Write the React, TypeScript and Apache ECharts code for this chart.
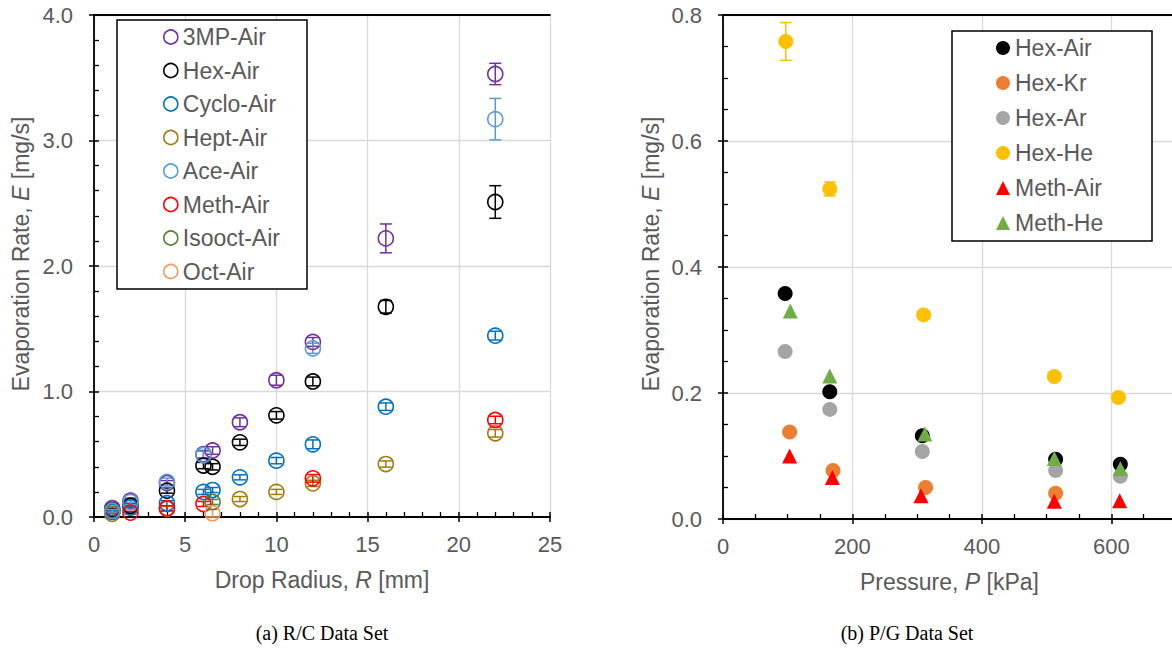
import React, { useEffect, useRef } from 'react';
import * as echarts from 'echarts';

// ---------- (a) R/C data set: [R (mm), E (mg/s), error] ----------
const rcNames = ['3MP-Air', 'Hex-Air', 'Cyclo-Air', 'Hept-Air', 'Ace-Air', 'Meth-Air', 'Isooct-Air', 'Oct-Air'];
const rcColors = ['#7030A0', '#000000', '#0070C0', '#A07C10', '#5B9BD5', '#FF0000', '#548235', '#F19A5C'];

const mp3Air = [[1, 0.07, 0.01], [2, 0.13, 0.02], [4, 0.27, 0.02], [6, 0.5, 0.03], [6.5, 0.53, 0.03], [8, 0.755, 0.035], [10, 1.09, 0.04], [12, 1.395, 0.035], [16, 2.22, 0.115], [22, 3.53, 0.085]];
const hexAir = [[1, 0.055, 0.01], [2, 0.09, 0.01], [4, 0.21, 0.02], [6, 0.41, 0.025], [6.5, 0.4, 0.025], [8, 0.595, 0.025], [10, 0.81, 0.03], [12, 1.08, 0.035], [16, 1.675, 0.05], [22, 2.51, 0.13]];
const cycloAir = [[1, 0.04, 0.01], [2, 0.075, 0.01], [4, 0.11, 0.02], [6, 0.2, 0.02], [6.5, 0.215, 0.02], [8, 0.316, 0.02], [10, 0.449, 0.025], [12, 0.579, 0.035], [16, 0.879, 0.03], [22, 1.445, 0.035]];
const heptAir = [[1, 0.025, 0.01], [4, 0.065, 0.02], [8, 0.143, 0.02], [10, 0.2, 0.02], [12, 0.268, 0.025], [16, 0.422, 0.025], [22, 0.667, 0.03]];
const aceAir = [[1, 0.05, 0.01], [2, 0.12, 0.02], [4, 0.28, 0.03], [6, 0.494, 0.03], [12, 1.344, 0.04], [22, 3.17, 0.165]];
const methAir = [[2, 0.035, 0.01], [4, 0.07, 0.02], [6, 0.104, 0.02], [12, 0.308, 0.03], [22, 0.773, 0.03]];
const isooctAir = [[6.5, 0.12, 0.02]];
const octAir = [[6.5, 0.03, 0.03]];
const rcData = [mp3Air, hexAir, cycloAir, heptAir, aceAir, methAir, isooctAir, octAir];

// ---------- (b) P/G data set: [P (kPa), E (mg/s), error] ----------
const pgNames = ['Hex-Air', 'Hex-Kr', 'Hex-Ar', 'Hex-He', 'Meth-Air', 'Meth-He'];
const pgColors = ['#000000', '#ED7D31', '#A5A5A5', '#FFC000', '#FF0000', '#70AD47'];
const pgSymbols = ['circle', 'circle', 'circle', 'circle', 'triangle', 'triangle'];

const pgHexAir = [[96, 0.358, 0], [165, 0.202, 0], [308, 0.132, 0], [514, 0.095, 0], [614, 0.087, 0]];
const pgHexKr = [[103, 0.138, 0], [170, 0.077, 0], [313, 0.05, 0], [514, 0.041, 0]];
const pgHexAr = [[96, 0.266, 0], [165, 0.174, 0], [308, 0.107, 0], [514, 0.077, 0], [614, 0.068, 0]];
const pgHexHe = [[97, 0.758, 0.03], [165, 0.524, 0.011], [310, 0.324, 0.005], [512, 0.226, 0.004], [611, 0.193, 0.004]];
const pgMethAir = [[103, 0.1, 0], [169, 0.066, 0], [306, 0.037, 0], [512, 0.028, 0], [613, 0.029, 0]];
const pgMethHe = [[104, 0.33, 0], [165, 0.227, 0], [312, 0.135, 0], [512, 0.096, 0], [614, 0.08, 0]];
const pgData = [pgHexAir, pgHexKr, pgHexAr, pgHexHe, pgMethAir, pgMethHe];

// ---------- axis ticks ----------
const rcXTicks = { min: 0, max: 25, interval: 5 };
const rcYTicks = { min: 0, max: 4, interval: 1 };
const pgXTicks = { min: 0, max: 700, interval: 200 };
const pgYTicks = { min: 0, max: 0.8, interval: 0.2 };

const FONT = '"Liberation Sans", Arial, sans-serif';
const TXT = '#595959';
const TICK_FS = 22;
const TITLE_FS = 23;
const LEG_FS = 23;

function errorBarSeries(name: string, data: number[][], color: string, xIdx: number, yIdx: number, capHalf: number) {
  return {
    type: 'custom',
    name,
    xAxisIndex: xIdx,
    yAxisIndex: yIdx,
    data: data.filter((d) => d[2] > 0),
    z: 3,
    renderItem: (_params: any, api: any) => {
      const x = api.value(0);
      const y = api.value(1);
      const e = api.value(2);
      const lo = api.coord([x, y - e]);
      const hi = api.coord([x, y + e]);
      const style = { stroke: color, lineWidth: 1.5, fill: null };
      return {
        type: 'group',
        children: [
          { type: 'line', shape: { x1: lo[0], y1: lo[1], x2: hi[0], y2: hi[1] }, style },
          { type: 'line', shape: { x1: lo[0] - capHalf, y1: lo[1], x2: lo[0] + capHalf, y2: lo[1] }, style },
          { type: 'line', shape: { x1: hi[0] - capHalf, y1: hi[1], x2: hi[0] + capHalf, y2: hi[1] }, style },
        ],
      };
    },
  };
}

const titleStyle = {
  fontSize: TITLE_FS,
  color: TXT,
  fontFamily: FONT,
  rich: { i: { fontStyle: 'italic', fontSize: TITLE_FS, color: TXT, fontFamily: FONT } },
};

function mainAxis(t: any, gridIndex: number, splitN: number, fmt: (v: number) => string, isY: boolean, name?: string, hideMaxLine?: boolean) {
  return {
    type: 'value',
    gridIndex,
    min: t.min,
    max: t.max,
    interval: t.interval,
    position: isY ? 'left' : 'bottom',
    axisLine: { show: true, onZero: false, lineStyle: { color: '#000', width: 1.8 } },
    axisTick: { show: true, inside: true, length: 5, lineStyle: { color: '#000', width: 1.5 } },
    minorTick: { show: true, splitNumber: splitN, length: 5, lineStyle: { color: '#000', width: 1.3 } },
    splitLine: { show: true, showMaxLine: !hideMaxLine, lineStyle: { color: '#D9D9D9', width: 1.3 } },
    axisLabel: {
      fontSize: TICK_FS,
      color: TXT,
      fontFamily: FONT,
      margin: isY ? 21 : 16,
      formatter: (v: number) => (!isY && v > t.max - 1e-9 && t.max % t.interval !== 0 ? '' : fmt(v)),
    },
    name: name || '',
    nameLocation: 'middle',
    nameGap: 51,
    nameTextStyle: titleStyle,
  };
}

function tickAxis(t: any, gridIndex: number, isY: boolean) {
  return {
    type: 'value',
    gridIndex,
    min: t.min,
    max: t.max,
    interval: t.interval,
    position: isY ? 'left' : 'bottom',
    axisLine: { show: false, onZero: false },
    axisTick: { show: true, inside: false, length: 5, lineStyle: { color: '#000', width: 1.5 } },
    axisLabel: { show: false },
    splitLine: { show: false },
  };
}

function topAxis(t: any, gridIndex: number) {
  return {
    type: 'value',
    gridIndex,
    min: t.min,
    max: t.max,
    interval: t.interval,
    position: 'top',
    axisLine: { show: true, onZero: false, lineStyle: { color: '#000', width: 1.8 } },
    axisTick: { show: false },
    axisLabel: { show: false },
    splitLine: { show: false },
  };
}

export default function App() {
  const ref = useRef<HTMLDivElement>(null);
  useEffect(() => {
    if (!ref.current) return;
    const chart = echarts.init(ref.current, undefined, { renderer: 'svg' });

    const series: any[] = [];
    rcNames.forEach((n, i) => {
      series.push(errorBarSeries('eb-a:' + n, rcData[i], rcColors[i], 0, 0, 6));
      series.push({
        type: 'scatter',
        name: 'a:' + n,
        xAxisIndex: 0,
        yAxisIndex: 0,
        data: rcData[i].map((d) => [d[0], d[1]]),
        symbol: 'circle',
        symbolSize: 15,
        itemStyle: { color: 'rgba(0,0,0,0)', borderColor: rcColors[i], borderWidth: 1.6, opacity: 1 },
        z: 4,
      });
    });
    pgNames.forEach((n, i) => {
      series.push(errorBarSeries('eb-b:' + n, pgData[i], pgColors[i], 3, 2, 6));
      series.push({
        type: 'scatter',
        name: 'b:' + n,
        xAxisIndex: 3,
        yAxisIndex: 2,
        data: pgData[i].map((d) => [d[0], d[1]]),
        symbol: pgSymbols[i],
        symbolSize: 15,
        itemStyle: { color: pgColors[i], opacity: 1 },
        z: 4,
      });
    });

    const yTitle = (x: number) => ({
      type: 'text',
      z: 5,
      x,
      y: 254,
      rotation: Math.PI / 2,
      style: {
        text: 'Evaporation Rate, {i|E} [mg/s]',
        fill: TXT,
        fontSize: TITLE_FS,
        fontFamily: FONT,
        align: 'center',
        verticalAlign: 'middle',
        rich: { i: { fontStyle: 'italic', fontSize: TITLE_FS, fontFamily: FONT, fill: TXT } },
      },
    });

    const option: any = {
      animation: false,
      backgroundColor: '#ffffff',
      grid: [
        { left: 94, top: 15, width: 456, height: 502, show: false },
        { left: 723, top: 15, width: 453, height: 504, show: false },
      ],
      xAxis: [
        mainAxis(rcXTicks, 0, 5, (v) => String(v), false, 'Drop Radius, {i|R} [mm]'),
        tickAxis(rcXTicks, 0, false),
        topAxis(rcXTicks, 0),
        mainAxis(pgXTicks, 1, 4, (v) => String(v), false, 'Pressure, {i|P} [kPa]', true),
        tickAxis(pgXTicks, 1, false),
        topAxis(pgXTicks, 1),
      ],
      yAxis: [
        mainAxis(rcYTicks, 0, 5, (v) => v.toFixed(1), true),
        tickAxis(rcYTicks, 0, true),
        mainAxis(pgYTicks, 1, 4, (v) => v.toFixed(1), true),
        tickAxis(pgYTicks, 1, true),
      ],
      legend: [
        {
          orient: 'vertical',
          left: 163,
          top: 25.5,
          padding: 0,
          itemWidth: 14,
          itemHeight: 14,
          itemGap: 10.5,
          selectedMode: false,
          textStyle: { fontSize: LEG_FS, color: TXT, fontFamily: FONT },
          formatter: (n: string) => n.slice(2),
          data: rcNames.map((n, i) => ({
            name: 'a:' + n,
            icon: 'circle',
            itemStyle: { color: 'rgba(0,0,0,0)', borderColor: rcColors[i], borderWidth: 1.6 },
          })),
          z: 6,
        },
        {
          orient: 'vertical',
          left: 996,
          top: 36.5,
          padding: 0,
          itemWidth: 14,
          itemHeight: 14,
          itemGap: 12,
          selectedMode: false,
          textStyle: { fontSize: LEG_FS, color: TXT, fontFamily: FONT },
          formatter: (n: string) => n.slice(2),
          data: pgNames.map((n, i) => ({
            name: 'b:' + n,
            icon: pgSymbols[i],
            itemStyle: { color: pgColors[i], borderWidth: 0 },
          })),
          z: 6,
        },
      ],
      graphic: {
        elements: [
          { type: 'rect', z: 5, shape: { x: 117, y: 20, width: 190, height: 269 }, style: { fill: '#fff', stroke: '#000', lineWidth: 1.5 } },
          { type: 'rect', z: 5, shape: { x: 952, y: 31, width: 200, height: 210 }, style: { fill: '#fff', stroke: '#000', lineWidth: 1.5 } },
          yTitle(21),
          yTitle(651),
          { type: 'text', z: 5, x: 322, y: 633, style: { text: '(a) R/C Data Set', fill: '#000', fontSize: 20, fontFamily: '"Liberation Serif", "Times New Roman", serif', align: 'center', verticalAlign: 'middle' } },
          { type: 'text', z: 5, x: 907, y: 633, style: { text: '(b) P/G Data Set', fill: '#000', fontSize: 20, fontFamily: '"Liberation Serif", "Times New Roman", serif', align: 'center', verticalAlign: 'middle' } },
        ],
      },
      series,
    };
    chart.setOption(option);
    return () => chart.dispose();
  }, []);

  return (
    <div
      ref={ref}
      style={{ position: 'fixed', left: 0, top: 0, width: 1250, height: 649, background: '#fff' }}
    />
  );
}
